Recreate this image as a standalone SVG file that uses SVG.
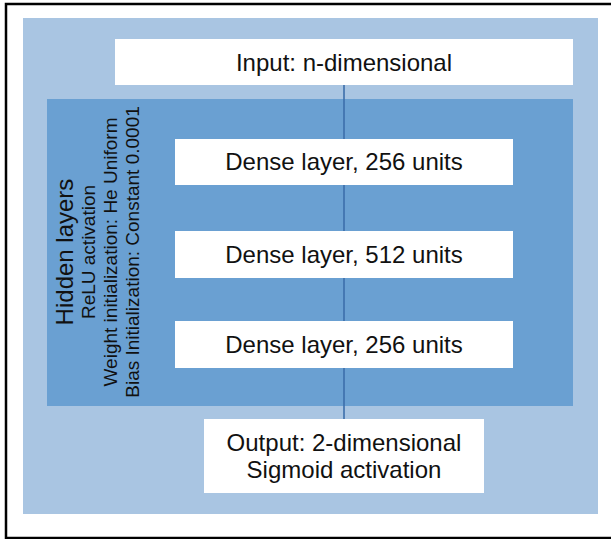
<svg xmlns="http://www.w3.org/2000/svg" width="611" height="539" viewBox="0 0 611 539">
<style>
.box{fill:#ffffff}
.t{font-family:"Liberation Sans",Arial,sans-serif;fill:#111111;text-anchor:middle}
.big{font-size:24px}
.sm{font-size:19px}
</style>
<rect x="0" y="0" width="611" height="539" fill="#ffffff"/>
<rect x="6" y="4" width="612" height="534" fill="none" stroke="#000000" stroke-width="2.5"/>
<g id="outer"><rect x="23" y="18" width="575" height="496" fill="#a9c5e2"/></g>
<g id="hidden">
<rect x="47" y="99" width="526" height="307" fill="#6aa0d2"/>
<text class="t" transform="translate(73,252) rotate(-90)" font-size="24">Hidden layers</text>
<text class="t sm" transform="translate(95,252) rotate(-90)">ReLU activation</text>
<text class="t sm" transform="translate(117,252) rotate(-90)">Weight initialization: He Uniform</text>
<text class="t sm" transform="translate(139,252) rotate(-90)">Bias Initialization: Constant 0.0001</text>
</g>
<g id="connectors"><line x1="344" y1="85" x2="344" y2="419" stroke="#3d6eab" stroke-width="1.6"/></g>
<g id="input"><rect class="box" x="115" y="39" width="458" height="46"/><text class="t big" x="344" y="71">Input: n-dimensional</text></g>
<g id="dense1"><rect class="box" x="175" y="139" width="338" height="46"/><text class="t big" x="344" y="170">Dense layer, 256 units</text></g>
<g id="dense2"><rect class="box" x="175" y="231" width="338" height="47"/><text class="t big" x="344" y="263">Dense layer, 512 units</text></g>
<g id="dense3"><rect class="box" x="175" y="321" width="338" height="47"/><text class="t big" x="344" y="353">Dense layer, 256 units</text></g>
<g id="output"><rect class="box" x="204" y="419" width="280" height="74"/><text class="t big" x="344" y="451">Output: 2-dimensional</text><text class="t big" x="344" y="478">Sigmoid activation</text></g>
</svg>
